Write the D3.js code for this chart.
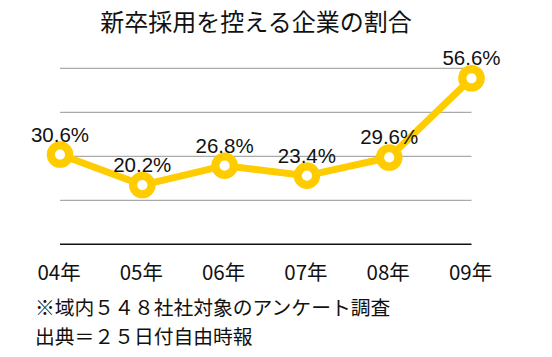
<!DOCTYPE html>
<html><head><meta charset="utf-8">
<script src="https://cdn.jsdelivr.net/npm/d3@7"></script>
<style>
html,body{margin:0;padding:0;background:#fff;}
svg{display:block;font-family:"Noto Sans CJK JP","Noto Sans",sans-serif;}
</style></head>
<body>
<svg id="chart" width="552" height="357"></svg>
<script>
const title = "新卒採用を控える企業の割合";
const years = ["04年","05年","06年","07年","08年","09年"];
const values = [30.6, 20.2, 26.8, 23.4, 29.6, 56.6];
const gridTicks = [15, 30, 45, 60];
const notes = ["※域内５４８社社対象のアンケート調査", "出典＝２５日付自由時報"];

const svg = d3.select("#chart");
const x = d3.scalePoint().domain(years).range([60, 471.5]).padding(0);
const y = d3.scaleLinear().domain([0, 60]).range([244.3, 68.3]);

svg.append("text").attr("x", 256).attr("y", 31).attr("text-anchor", "middle")
  .attr("font-size", 24).attr("fill", "#111").text(title);

svg.append("g").selectAll("line").data(gridTicks).join("line")
  .attr("x1", x.range()[0]).attr("x2", x.range()[1])
  .attr("y1", d => y(d)).attr("y2", d => y(d))
  .attr("stroke", "#aaaaaa").attr("stroke-width", 1.2);

svg.append("line").attr("x1", x.range()[0]).attr("x2", x.range()[1])
  .attr("y1", y(0)).attr("y2", y(0)).attr("stroke", "#111").attr("stroke-width", 1.5);

const xAxis = d3.axisBottom(x).tickSize(0).tickPadding(0);
const gx = svg.append("g").attr("transform", `translate(-1.5,${y(0)})`).call(xAxis);
gx.select(".domain").remove();
gx.selectAll("text").attr("font-size", 20.5).attr("fill", "#111")
  .attr("font-family", "'Noto Sans CJK JP',sans-serif").attr("dy", null).attr("y", 36);

const pts = years.map((d, i) => [x(d), y(values[i])]);
svg.append("path").attr("d", d3.line()(pts)).attr("fill", "none")
  .attr("stroke", "#ffcc00").attr("stroke-width", 7).attr("stroke-linejoin", "round");

svg.append("g").selectAll("circle").data(pts).join("circle")
  .attr("cx", d => d[0]).attr("cy", d => d[1]).attr("r", 9.2)
  .attr("fill", "#fff").attr("stroke", "#ffcc00").attr("stroke-width", 8.2);

svg.append("g").selectAll("text").data(values).join("text")
  .attr("x", (d, i) => pts[i][0]).attr("y", (d, i) => pts[i][1] - 13)
  .attr("text-anchor", "middle").attr("font-size", 20.5).attr("fill", "#111")
  .attr("font-family", "'Liberation Sans',Arial,sans-serif")
  .text(d => d.toFixed(1) + "%");

svg.append("g").selectAll("text").data(notes).join("text")
  .attr("x", 35).attr("y", (d, i) => 315 + i * 28.5)
  .attr("font-size", 19.8).attr("fill", "#111").text(d => d);
</script>
</body></html>
